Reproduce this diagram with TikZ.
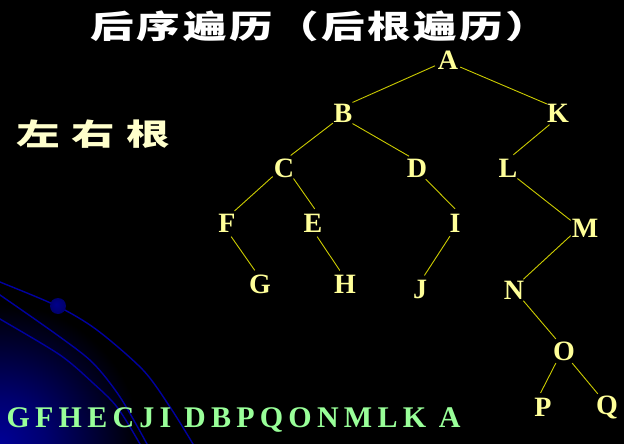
\documentclass[tikz,border=0pt]{standalone}
\usepackage{fontspec}
\setmainfont{Liberation Serif}
\newfontfamily\cjk{Noto Sans CJK SC}
\definecolor{treeyellow}{HTML}{FFFF99}
\definecolor{edgeyellow}{HTML}{CCCC00}
\definecolor{seqgreen}{HTML}{99FF99}
\definecolor{cream}{HTML}{FFFFCC}
\definecolor{arcblue}{HTML}{0000A0}
\definecolor{glowblue}{RGB}{0,0,150}
\definecolor{dotblue}{RGB}{0,0,110}
\pgfdeclareradialshading{glow}{\pgfpoint{0bp}{0bp}}{color(0bp)=(glowblue); color(8bp)=(glowblue!75!black); color(25bp)=(black); color(50bp)=(black)}
\pgfdeclareradialshading{dotshade}{\pgfpoint{-6bp}{6bp}}{color(0bp)=(dotblue!80!blue); color(25bp)=(dotblue); color(50bp)=(dotblue!70!black)}
\begin{document}
\begin{tikzpicture}[x=1pt,y=-1pt,
  tn/.style={circle, minimum size=28pt, inner sep=0pt, text=treeyellow, font=\fontsize{28}{28}\selectfont\bfseries},
  ed/.style={draw=edgeyellow, line width=0.9pt},
  arcline/.style={draw=arcblue, line width=1.4pt}]
\fill[black] (0,0) rectangle (624,444);
\useasboundingbox (0,0) rectangle (624,444);
\begin{scope}
\clip (0,0) rectangle (624,444);
\shade[shading=glow] (0,444) circle (140pt);
\draw[arcline] plot[smooth] coordinates {(-10,278) (0,282) (57,306) (97,330) (143,370) (170,407) (193,444) (197,452)};
\draw[arcline] plot[smooth] coordinates {(-10,289) (0,295) (60,337) (93,363) (120,397) (147,444) (150,452)};
\draw[arcline] plot[smooth] coordinates {(-10,313) (0,319) (60,355) (93,383) (117,407) (140,444) (143,452)};
\shade[shading=dotshade] (58,306) circle (8pt);
\end{scope}

\node[anchor=west, text=white, xscale=1.36, font=\cjk\bfseries\fontsize{32}{32}\selectfont\addfontfeature{LetterSpace=6}] (title) at (86,26) {后序遍历（后根遍历）};
\node[anchor=west, text=cream, xscale=1.45, font=\cjk\bfseries\fontsize{30}{30}\selectfont] (lrg) at (11,134) {左\hspace{8pt}右\hspace{8pt}根};
\node[anchor=base west, text=seqgreen, font=\fontsize{30}{30}\selectfont\bfseries\addfontfeature{LetterSpace=17.5}] (seq) at (3,427) {GFHECJI DBPQONMLK A};

\node[tn] (A) at (448,60) {A};
\node[tn] (B) at (343,113) {B};
\node[tn] (K) at (558,113) {K};
\node[tn] (C) at (284,168) {C};
\node[tn] (D) at (417,168) {D};
\node[tn] (L) at (508,168) {L};
\node[tn] (F) at (227,223) {F};
\node[tn] (E) at (313,223) {E};
\node[tn] (I) at (455,223) {I};
\node[tn] (M) at (585,228) {M};
\node[tn] (G) at (260,284) {G};
\node[tn] (H) at (345,284) {H};
\node[tn] (J) at (420,289) {J};
\node[tn] (N) at (514,290) {N};
\node[tn] (O) at (564,351) {O};
\node[tn] (P) at (543,407) {P};
\node[tn] (Q) at (607,407) {Q};

\draw[ed] (A.204) -- (B.48);
\draw[ed] (A.330) -- (K.141);
\draw[ed] (B.225) -- (C.62);
\draw[ed] (B.312) -- (D.124);
\draw[ed] (K.234) -- (L.68);
\draw[ed] (C.217) -- (F.58);
\draw[ed] (C.312) -- (E.83);
\draw[ed] (D.308) -- (I.90);
\draw[ed] (L.312) -- (M.152);
\draw[ed] (F.287) -- (G.111);
\draw[ed] (E.287) -- (H.111);
\draw[ed] (I.249) -- (J.72);
\draw[ed] (M.208) -- (N.49);
\draw[ed] (N.311) -- (O.124);
\draw[ed] (O.236) -- (P.100);
\draw[ed] (O.304) -- (Q.125);
\end{tikzpicture}
\end{document}
